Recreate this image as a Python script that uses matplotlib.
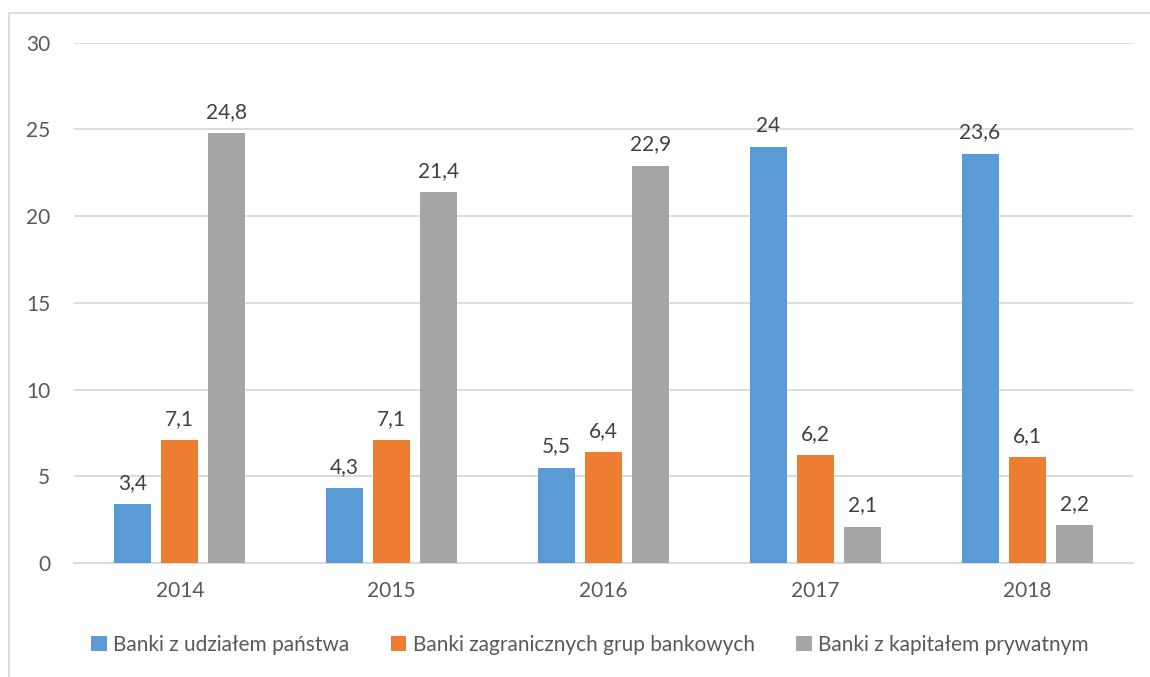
import matplotlib
matplotlib.use("Agg")
import matplotlib.pyplot as plt
import numpy as np
from matplotlib.patches import Rectangle

# lata i udziały (%) dla trzech grup banków
years = ["2014", "2015", "2016", "2017", "2018"]
state_banks = [3.4, 4.3, 5.5, 24.0, 23.6]
foreign_groups = [7.1, 7.1, 6.4, 6.2, 6.1]
private_capital = [24.8, 21.4, 22.9, 2.1, 2.2]

series = [
    ("Banki z udziałem państwa", state_banks, "#5B9BD5"),
    ("Banki zagranicznych grup bankowych", foreign_groups, "#ED7D31"),
    ("Banki z kapitałem prywatnym", private_capital, "#A5A5A5"),
]

plt.rcParams["font.family"] = ["Lato", "DejaVu Sans"]
FS = 15

fig = plt.figure(figsize=(11.5, 6.77), dpi=100)
ax = fig.add_axes([0.0643, 0.1684, 0.9209, 0.7688])

# ramka wokół wykresu (jak w Excelu)
fig.patches.append(Rectangle((9 / 1150, -0.1), 1.2, 1 - 13 / 677 + 0.1,
                             transform=fig.transFigure, fill=False,
                             edgecolor="#D9D9D9", linewidth=1.3))

x = np.arange(len(years))
width = 0.175
step = 0.222


def fmt(v):
    s = f"{v:.1f}".replace(".", ",")
    return s[:-2] if s.endswith(",0") else s


for i, (name, vals, color) in enumerate(series):
    pos = x + (i - 1) * step
    bars = ax.bar(pos, vals, width, color=color, label=name, zorder=3)
    for b, v in zip(bars, vals):
        ax.annotate(fmt(v), (b.get_x() + b.get_width() / 2, v),
                    xytext=(0, 8), textcoords="offset points",
                    ha="center", va="bottom", fontsize=FS, color="#404040")

ax.set_xlim(-0.5, len(years) - 0.5)
ax.set_ylim(0, 30)
ax.set_yticks(range(0, 31, 5))
ax.set_xticks(x)
ax.set_xticklabels(years)
ax.grid(axis="y", color="#D9D9D9", linewidth=1.3, zorder=0)
for side in ["top", "right", "left"]:
    ax.spines[side].set_visible(False)
ax.spines["bottom"].set_color("#D9D9D9")
ax.spines["bottom"].set_linewidth(1.3)
ax.tick_params(axis="both", length=0, labelsize=FS, labelcolor="#595959")
ax.tick_params(axis="y", pad=17)
ax.tick_params(axis="x", pad=13)

fig.legend(loc="center", bbox_to_anchor=(0.513, 1 - 645 / 677), ncol=3,
           frameon=False, fontsize=FS, labelcolor="#595959",
           handlelength=0.75, handleheight=0.75, handletextpad=0.3,
           columnspacing=2.0)

fig.savefig("out.png", dpi=100)
